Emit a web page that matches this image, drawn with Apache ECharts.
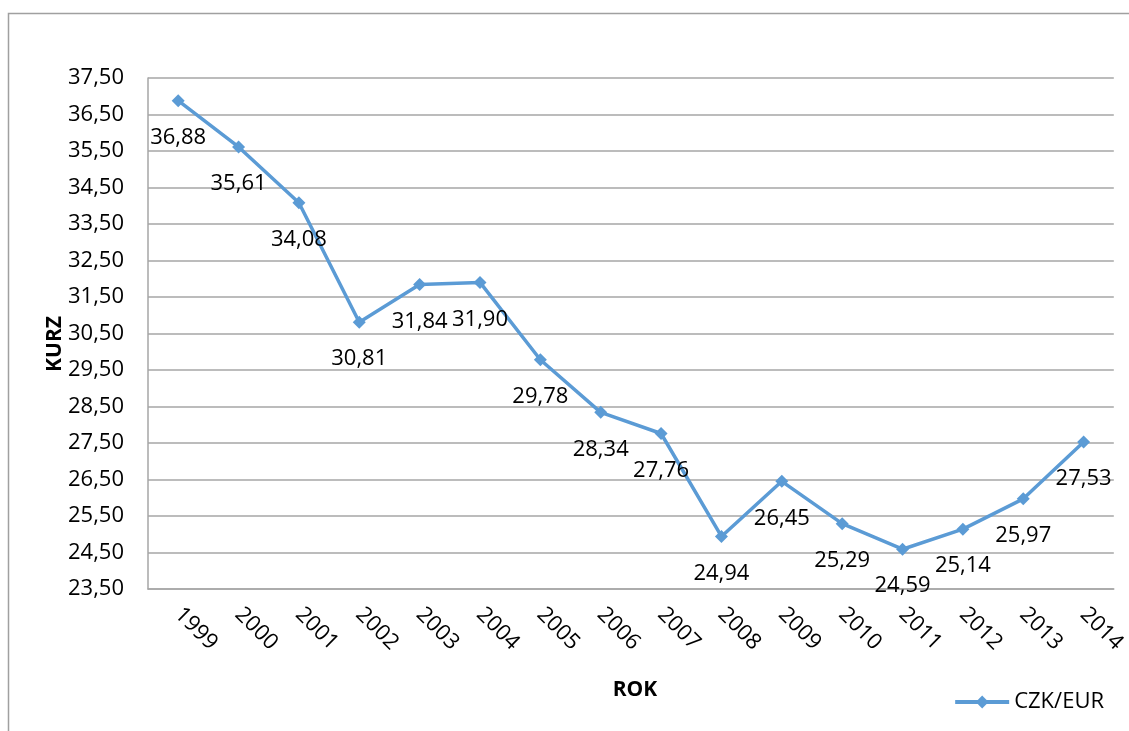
<!DOCTYPE html>
<html>
<head>
<meta charset="utf-8">
<script src="https://cdn.jsdelivr.net/npm/echarts@6/dist/echarts.min.js"></script>
<style>
  html, body { margin: 0; padding: 0; background: #fff; }
  #chart { width: 1129px; height: 731px; }
</style>
</head>
<body>
<div id="chart"></div>
<script>
const years = ['1999', '2000', '2001', '2002', '2003', '2004', '2005', '2006',
  '2007', '2008', '2009', '2010', '2011', '2012', '2013', '2014'];
const czkEur = [36.88, 35.61, 34.08, 30.81, 31.84, 31.90, 29.78, 28.34,
  27.76, 24.94, 26.45, 25.29, 24.59, 25.14, 25.97, 27.53];
const seriesName = 'CZK/EUR';
const yMin = 23.5;
const yMax = 37.5;
const yStep = 1;

const font = '"Open Sans", "Liberation Sans", sans-serif';
const gridColor = '#a6a6a6';
const lineColor = '#5b9bd5';

function fmt(v) {
  return Number(v).toFixed(2).replace('.', ',');
}

const chart = echarts.init(document.getElementById('chart'));

const option = {
  animation: false,
  backgroundColor: '#fff',
  textStyle: { fontFamily: font, color: '#000' },
  grid: { left: 148, right: 12, top: 78, bottom: 142 },
  legend: {
    right: 20,
    top: 686,
    itemWidth: 54,
    itemHeight: 16,
    itemGap: 6,
    lineStyle: { width: 4 },
    textStyle: { fontSize: 22, color: '#000', fontFamily: font },
    data: [seriesName]
  },
  xAxis: {
    type: 'category',
    data: years,
    boundaryGap: true,
    axisLine: { lineStyle: { color: gridColor, width: 1.5 } },
    axisTick: { show: false },
    axisLabel: { rotate: -45, margin: 22, fontSize: 22, color: '#000', fontFamily: font }
  },
  yAxis: {
    type: 'value',
    min: yMin,
    max: yMax,
    interval: yStep,
    axisLine: { show: true, lineStyle: { color: gridColor, width: 1.5 } },
    axisTick: { show: false },
    splitLine: { lineStyle: { color: gridColor, width: 1.5 } },
    axisLabel: { margin: 24, fontSize: 22, color: '#000', fontFamily: font, formatter: fmt }
  },
  graphic: [
    {
      type: 'rect',
      shape: { x: 8.5, y: 13.5, width: 1200, height: 800 },
      style: { fill: 'none', stroke: '#a0a0a0', lineWidth: 1.5 },
      silent: true
    },
    {
      type: 'text',
      x: 55, y: 344,
      rotation: Math.PI / 2,
      style: {
        text: 'KURZ', fontSize: 21, fontWeight: 'bold', fontFamily: font,
        fill: '#000', align: 'center', verticalAlign: 'middle'
      }
    },
    {
      type: 'text',
      x: 635, y: 690,
      style: {
        text: 'ROK', fontSize: 21, fontWeight: 'bold', fontFamily: font,
        fill: '#000', align: 'center', verticalAlign: 'middle'
      }
    }
  ],
  series: [
    {
      name: seriesName,
      type: 'line',
      data: czkEur,
      symbol: 'diamond',
      symbolSize: 13,
      lineStyle: { color: lineColor, width: 3.5 },
      itemStyle: { color: lineColor },
      label: {
        show: true,
        position: 'inside',
        offset: [0, 37],
        fontSize: 22,
        color: '#000',
        fontFamily: font,
        formatter: p => fmt(p.value)
      }
    }
  ]
};

chart.setOption(option);
</script>
</body>
</html>
